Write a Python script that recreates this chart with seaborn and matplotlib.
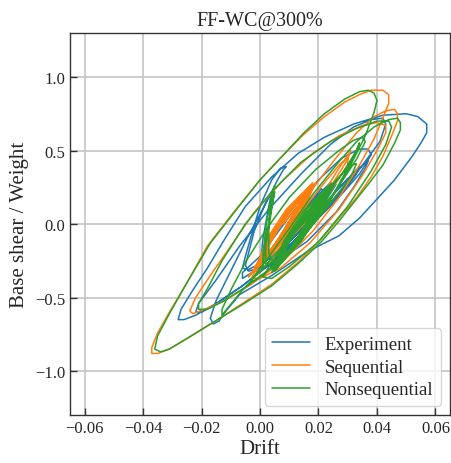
import numpy as np
import matplotlib
matplotlib.use("Agg")
import matplotlib.pyplot as plt
import pandas as pd
import seaborn as sns

# --- Hysteresis traces: (drift, base shear / weight) ---
exp_points = [
    (0.010, 0.00), (0.016, 0.12), (0.021, 0.24), (0.022, 0.22), (0.017, 0.05), (0.009, -0.15), (0.004, -0.26),
    (0.003, -0.22), (0.008, -0.08), (0.015, 0.10), (0.024, 0.28), (0.026, 0.27), (0.020, 0.08), (0.012, -0.12),
    (0.005, -0.28), (0.000, -0.30), (0.001, -0.10), (0.003, 0.12), (0.004, 0.22), (0.002, 0.15), (-0.002, -0.05),
    (-0.005, -0.28), (-0.004, -0.32),
    (0.004, -0.28), (0.016, -0.12), (0.026, 0.08), (0.032, 0.25), (0.036, 0.38), (0.037, 0.43), (0.035, 0.40),
    (0.028, 0.22), (0.018, 0.02), (0.006, -0.18), (-0.002, -0.32), (-0.006, -0.37), (-0.006, -0.33),
    (0.000, -0.22), (0.010, 0.05), (0.020, 0.30), (0.028, 0.45), (0.034, 0.51), (0.037, 0.51), (0.038, 0.47),
    (0.034, 0.34), (0.026, 0.16), (0.015, -0.05), (0.003, -0.28), (-0.006, -0.42), (-0.014, -0.53),
    (-0.020, -0.60), (-0.022, -0.60), (-0.021, -0.54),
    (-0.015, -0.38), (-0.007, -0.15), (0.003, 0.10), (0.014, 0.34), (0.024, 0.54), (0.032, 0.66), (0.038, 0.71),
    (0.042, 0.72), (0.043, 0.68), (0.041, 0.56), (0.035, 0.40), (0.027, 0.20), (0.016, -0.03), (0.004, -0.26),
    (-0.006, -0.42), (-0.015, -0.54), (-0.022, -0.62), (-0.026, -0.65), (-0.028, -0.65), (-0.027, -0.58),
    (-0.023, -0.45), (-0.018, -0.30), (-0.012, -0.10), (-0.005, 0.12), (0.004, 0.32), (0.013, 0.48),
    (0.022, 0.59), (0.032, 0.68), (0.042, 0.74), (0.050, 0.75), (0.054, 0.73), (0.057, 0.68), (0.057, 0.62),
    (0.055, 0.55), (0.052, 0.46), (0.046, 0.30), (0.040, 0.17), (0.034, 0.04), (0.027, -0.08), (0.016, -0.19),
    (0.004, -0.35), (-0.007, -0.48), (-0.012, -0.60), (-0.014, -0.66), (-0.016, -0.68), (-0.017, -0.64),
    (-0.015, -0.52),
    (-0.010, -0.32), (-0.004, -0.08), (0.002, 0.14), (0.006, 0.30), (0.008, 0.37), (0.009, 0.39), (0.007, 0.38),
    (0.004, 0.30), (0.000, 0.12), (-0.003, -0.08), (-0.005, -0.22), (-0.006, -0.30), (-0.004, -0.31),
    (0.005, -0.22), (0.015, -0.02), (0.025, 0.20), (0.032, 0.35), (0.034, 0.39), (0.033, 0.34), (0.026, 0.16),
    (0.016, -0.04), (0.006, -0.24), (0.004, -0.28), (0.010, -0.16), (0.018, 0.03), (0.025, 0.20), (0.030, 0.31),
    (0.029, 0.26), (0.022, 0.10), (0.014, -0.08), (0.009, -0.18),
]

seq_points = [
    (0.008, 0.00), (0.014, 0.15), (0.017, 0.26),
    (0.014, 0.09), (0.008, -0.10), (-0.001, -0.30),
    (0.002, -0.11), (0.009, 0.10), (0.018, 0.28),
    (0.015, 0.10), (0.008, -0.11), (-0.002, -0.32),
    (0.003, -0.10), (0.010, 0.08), (0.016, 0.22),
    (0.013, 0.08), (0.007, -0.09), (0.000, -0.26),
    (0.003, -0.10), (0.010, 0.11), (0.019, 0.28),
    (0.015, 0.11), (0.008, -0.10), (-0.002, -0.30),
    (0.004, -0.09), (0.010, 0.07), (0.015, 0.20),
    (0.012, 0.07), (0.007, -0.09), (0.001, -0.24),
    (0.003, -0.09), (0.010, 0.09), (0.018, 0.25),
    (0.015, 0.09), (0.008, -0.09), (-0.001, -0.28),
    (0.005, -0.08), (0.009, 0.06), (0.014, 0.18),
    (0.012, 0.06), (0.008, -0.08), (0.002, -0.22),
    (0.004, -0.09), (0.010, 0.09), (0.017, 0.24),
    (0.014, 0.09), (0.008, -0.09), (0.000, -0.27),
    (0.006, -0.18), (0.014, 0.02), (0.022, 0.22), (0.027, 0.38), (0.030, 0.47), (0.031, 0.50), (0.030, 0.44),
    (0.025, 0.28), (0.016, 0.06), (0.006, -0.16), (-0.001, -0.30), (-0.004, -0.36), (-0.003, -0.33),
    (0.002, -0.22), (0.010, 0.00), (0.018, 0.24), (0.026, 0.45), (0.033, 0.62), (0.039, 0.73), (0.043, 0.77),
    (0.046, 0.78), (0.047, 0.75), (0.047, 0.70),
    (0.045, 0.60), (0.042, 0.46), (0.038, 0.32), (0.033, 0.18), (0.027, 0.04), (0.021, -0.10), (0.013, -0.26),
    (0.004, -0.41), (-0.006, -0.54), (-0.016, -0.67), (-0.025, -0.78), (-0.031, -0.85), (-0.035, -0.88),
    (-0.037, -0.88), (-0.037, -0.84),
    (-0.035, -0.74), (-0.031, -0.60), (-0.025, -0.40), (-0.018, -0.15), (-0.009, 0.08), (0.000, 0.30),
    (0.008, 0.47), (0.015, 0.61), (0.022, 0.73), (0.029, 0.83), (0.034, 0.88), (0.038, 0.91), (0.042, 0.91),
    (0.044, 0.88), (0.044, 0.82),
    (0.042, 0.72), (0.039, 0.58), (0.034, 0.40), (0.027, 0.18), (0.018, -0.05), (0.008, -0.25), (-0.003, -0.41),
    (-0.012, -0.52), (-0.019, -0.58), (-0.023, -0.61), (-0.024, -0.59),
    (-0.022, -0.50), (-0.017, -0.35), (-0.010, -0.15), (-0.002, 0.08), (0.008, 0.30), (0.018, 0.48),
    (0.027, 0.60), (0.035, 0.67), (0.040, 0.69), (0.043, 0.67), (0.043, 0.62),
    (0.040, 0.50), (0.035, 0.33), (0.027, 0.10), (0.017, -0.13), (0.007, -0.30), (0.000, -0.37),
    (-0.003, -0.37), (-0.001, -0.30),
    (0.006, -0.14), (0.014, 0.08), (0.022, 0.28), (0.027, 0.40), (0.030, 0.45), (0.030, 0.40), (0.024, 0.22),
    (0.014, -0.02), (0.005, -0.22), (0.000, -0.32), (-0.002, -0.32),
    (0.004, -0.18), (0.010, 0.02), (0.015, 0.18), (0.018, 0.26), (0.016, 0.20), (0.010, 0.02), (0.004, -0.17),
    (0.001, -0.26),
]

non_points = [
    (0.014, 0.00), (0.020, 0.14), (0.023, 0.25),
    (0.020, 0.08), (0.014, -0.11), (0.005, -0.31),
    (0.008, -0.12), (0.015, 0.09), (0.024, 0.27),
    (0.021, 0.09), (0.014, -0.12), (0.004, -0.33),
    (0.009, -0.11), (0.016, 0.07), (0.022, 0.21),
    (0.019, 0.07), (0.013, -0.10), (0.006, -0.27),
    (0.009, -0.11), (0.016, 0.10), (0.025, 0.27),
    (0.021, 0.10), (0.014, -0.11), (0.004, -0.31),
    (0.010, -0.10), (0.016, 0.06), (0.021, 0.19),
    (0.018, 0.06), (0.013, -0.10), (0.007, -0.25),
    (0.009, -0.10), (0.016, 0.08), (0.024, 0.24),
    (0.021, 0.08), (0.014, -0.10), (0.005, -0.29),
    (0.011, -0.09), (0.015, 0.05), (0.020, 0.17),
    (0.018, 0.05), (0.014, -0.09), (0.008, -0.23),
    (0.010, -0.10), (0.016, 0.08), (0.023, 0.23),
    (0.020, 0.08), (0.014, -0.10), (0.005, -0.28),
    (0.003, -0.20), (0.003, 0.00), (0.004, 0.18), (0.005, 0.26), (0.004, 0.20), (0.002, -0.02), (0.001, -0.22),
    (0.001, -0.30), (0.002, -0.10), (0.004, 0.12), (0.005, 0.22), (0.004, 0.10), (0.002, -0.15), (0.002, -0.28),
    (0.010, -0.20), (0.018, 0.00), (0.025, 0.20), (0.030, 0.38), (0.033, 0.50), (0.034, 0.55), (0.033, 0.50),
    (0.028, 0.34), (0.020, 0.12), (0.010, -0.10), (0.001, -0.30), (-0.006, -0.45), (-0.011, -0.57),
    (-0.013, -0.62), (-0.013, -0.58), (-0.010, -0.45), (-0.005, -0.26), (0.002, -0.04), (0.010, 0.18),
    (0.019, 0.37), (0.027, 0.50), (0.032, 0.57), (0.035, 0.59), (0.036, 0.56),
    (0.033, 0.44), (0.027, 0.26), (0.019, 0.04), (0.010, -0.18), (0.002, -0.33), (-0.002, -0.39), (-0.003, -0.38),
    (0.002, -0.25), (0.010, -0.03), (0.018, 0.20), (0.026, 0.40), (0.033, 0.56), (0.039, 0.66), (0.044, 0.71),
    (0.047, 0.72), (0.048, 0.69), (0.048, 0.64),
    (0.046, 0.55), (0.042, 0.40), (0.037, 0.27), (0.033, 0.17), (0.027, 0.02), (0.021, -0.12), (0.013, -0.27),
    (0.004, -0.42), (-0.007, -0.56), (-0.017, -0.68), (-0.026, -0.79), (-0.031, -0.85), (-0.034, -0.87),
    (-0.036, -0.85),
    (-0.035, -0.76), (-0.031, -0.61), (-0.025, -0.40), (-0.017, -0.13), (-0.008, 0.10), (0.000, 0.30),
    (0.008, 0.47), (0.015, 0.62), (0.022, 0.75), (0.029, 0.85), (0.034, 0.90), (0.037, 0.91), (0.039, 0.89),
    (0.040, 0.84), (0.039, 0.76),
    (0.036, 0.60), (0.031, 0.40), (0.024, 0.16), (0.015, -0.08), (0.005, -0.28), (-0.005, -0.43),
    (-0.013, -0.53), (-0.018, -0.58), (-0.021, -0.58), (-0.021, -0.54),
    (-0.018, -0.44), (-0.013, -0.25), (-0.005, 0.00), (0.004, 0.22), (0.014, 0.42), (0.024, 0.56),
    (0.033, 0.65), (0.040, 0.70), (0.044, 0.70), (0.045, 0.66),
    (0.043, 0.54), (0.038, 0.36), (0.030, 0.12), (0.020, -0.12), (0.010, -0.29), (0.004, -0.37), (0.001, -0.36),
    (0.004, -0.26), (0.011, -0.07), (0.019, 0.14), (0.026, 0.30), (0.031, 0.40), (0.033, 0.41), (0.031, 0.32),
    (0.024, 0.14), (0.015, -0.08), (0.008, -0.25), (0.005, -0.32), (0.008, -0.24), (0.014, -0.05),
    (0.019, 0.11), (0.023, 0.22), (0.025, 0.26), (0.023, 0.18), (0.017, 0.02), (0.011, -0.15), (0.007, -0.26),
]

series_names = ["Experiment", "Sequential", "Nonsequential"]
colors = ["#1f77b4", "#ff7f0e", "#2ca02c"]

frames = []
for name, pts in zip(series_names, [exp_points, seq_points, non_points]):
    d = pd.DataFrame(pts, columns=["drift", "shear"])
    d["model"] = name
    frames.append(d)
df = pd.concat(frames, ignore_index=True)

sns.set_style("whitegrid")
plt.rcParams["font.family"] = ["Liberation Serif", "DejaVu Serif"]
plt.rcParams["axes.edgecolor"] = "#333333"

fig = plt.figure(figsize=(4.51, 4.64), dpi=100)
ax = fig.add_axes([0.155, 0.103, 0.843, 0.824])

sns.lineplot(data=df, x="drift", y="shear", hue="model", hue_order=series_names,
             palette=colors, sort=False, estimator=None, linewidth=1.1, ax=ax)

ax.set_xlim(-0.065, 0.065)
ax.set_ylim(-1.3, 1.3)
ax.set_xticks([-0.06, -0.04, -0.02, 0.00, 0.02, 0.04, 0.06])
ax.set_yticks([-1.0, -0.5, 0.0, 0.5, 1.0])
ax.grid(True, color="#c4c4c4", linewidth=1.2)
ax.tick_params(direction="in", length=5, width=1, labelsize=12, color="#333333",
               left=True, bottom=True)
for s in ax.spines.values():
    s.set_linewidth(1.0)

ax.set_title("FF-WC@300%", fontsize=14.5, pad=6)
ax.set_xlabel("Drift", fontsize=15, labelpad=2)
ax.set_ylabel("Base shear / Weight", fontsize=15, labelpad=4)

sns.move_legend(ax, "lower right", title=None, fontsize=13.5, frameon=True,
                handlelength=2.0, handletextpad=0.8, borderaxespad=0.5, labelspacing=0.3)

plt.savefig("out.png", dpi=100)
